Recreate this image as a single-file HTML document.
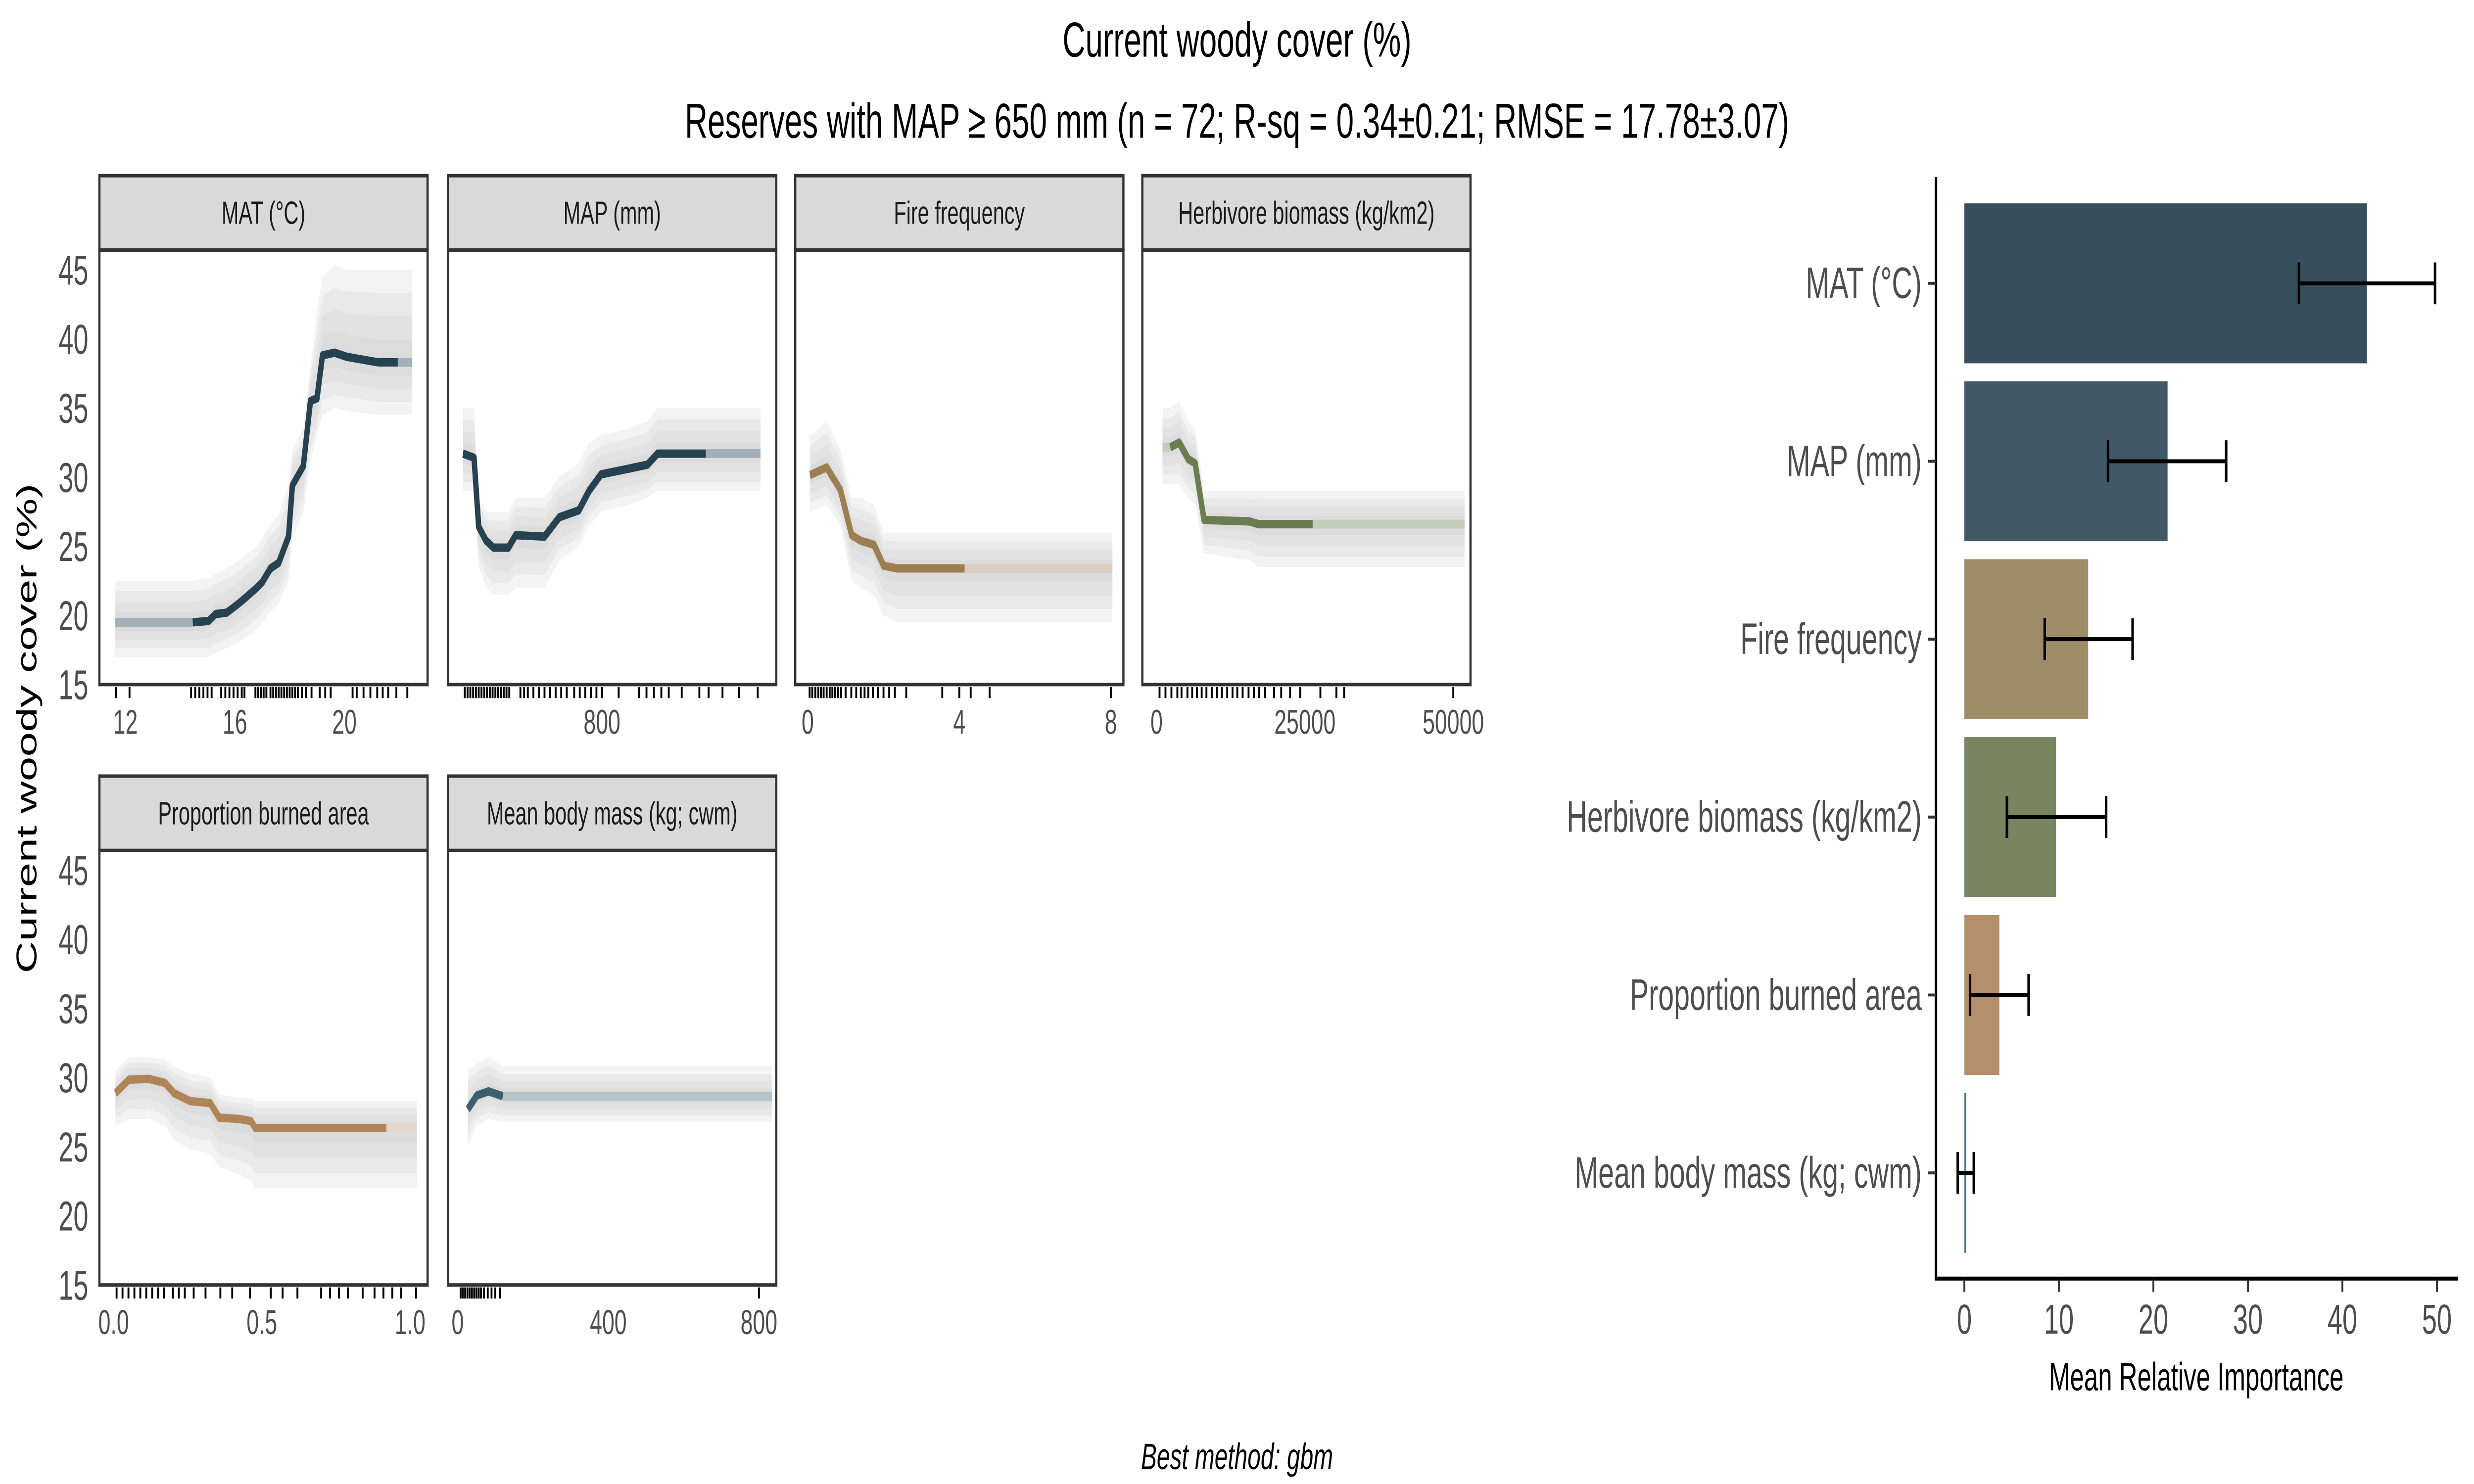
<!DOCTYPE html>
<html><head><meta charset="utf-8"><style>
html,body{margin:0;padding:0;background:#fff;width:100%;height:100%;overflow:hidden;}
svg{display:block;width:100vw;height:100vh;}
text{font-family:"Liberation Sans",Arial,sans-serif;}
</style></head><body>
<svg id="fig" xmlns="http://www.w3.org/2000/svg" viewBox="0 0 1568 603.08" preserveAspectRatio="none">
<rect x="0" y="0" width="1568" height="603.08" fill="#fff"/>
<text x="784" y="23" text-anchor="middle" font-size="20" fill="#000">Current woody cover (%)</text>
<text x="784" y="56" text-anchor="middle" font-size="20" fill="#000">Reserves with MAP ≥ 650 mm (n = 72; R-sq = 0.34±0.21; RMSE = 17.78±3.07)</text>
<text transform="translate(23,296) rotate(-90)" text-anchor="middle" font-size="18" fill="#000">Current woody cover (%)</text>
<text x="784" y="597" text-anchor="middle" font-size="15" font-style="italic" fill="#000">Best method: gbm</text>
<g id="panels"></g>
<g id="bars"></g>
</svg>
<script>
// ---------- Partial dependence data ----------
const matX = [14.46,15.04,15.3,15.7,16.1,16.4,16.8,17.0,17.3,17.6,17.96,18.1,18.5,18.76,19.0,19.2,19.64,20.09,21.24,21.95];
const matY = [19.5,19.6,20.1,20.2,20.8,21.3,22.0,22.4,23.4,23.8,25.7,29.4,30.8,35.5,35.7,38.8,39.0,38.7,38.3,38.3];
const matLo = [17.0,17.0,17.3,17.6,18.0,18.4,19.0,19.4,20.3,20.8,22.5,25.5,27.5,31.0,33.0,34.5,35.0,34.8,34.5,34.5];
const matHi = [22.5,22.7,23.0,23.4,23.9,24.4,25.0,25.6,26.6,27.3,29.5,32.0,33.5,38.0,42.0,44.5,45.3,45.0,45.0,45.0];
const matRug = [11.65,12.15,14.4,14.55,14.7,14.85,15.0,15.15,15.5,15.65,15.8,15.95,16.1,16.25,16.35,16.75,16.85,16.95,17.05,17.15,17.3,17.4,17.5,17.6,17.7,17.8,17.9,18.0,18.1,18.2,18.3,18.45,18.6,18.8,19.1,19.3,19.5,20.3,20.45,20.7,20.95,21.2,21.4,21.6,21.9,22.3];

const mapX = [650,662,667,675,683,699,707,738,754,775,786,799,828,849,860,912];
const mapY = [31.7,31.4,26.4,25.4,24.9,24.9,25.8,25.7,27.1,27.6,29.0,30.2,30.6,30.9,31.7,31.7];
const mapLo = [29.0,29.0,23.5,22.0,21.5,21.5,22.0,22.0,24.0,25.0,26.5,27.5,28.0,28.5,29.0,29.0];
const mapHi = [35.0,35.0,28.5,27.5,27.5,27.5,28.5,28.5,30.0,31.0,32.5,33.0,33.5,34.0,35.0,35.0];
const mapRug = [652,655,658,661,664,667,670,673,676,679,682,685,688,691,694,697,700,712,716,720,726,732,738,744,750,756,762,770,776,782,788,794,800,818,840,848,856,864,872,886,905,915,930,948,968];

const fireX = [0.06,0.5,0.86,1.16,1.4,1.75,2.0,2.35,4.14];
const fireY = [30.15,30.7,29.1,25.8,25.4,25.1,23.6,23.4,23.4];
const fireLo = [27.5,28.0,26.5,22.5,22.0,21.5,20.0,19.5,19.5];
const fireHi = [33.0,34.0,32.0,28.5,28.5,28.0,26.0,26.0,26.0];
const fireRug = [0.05,0.12,0.2,0.28,0.35,0.42,0.5,0.58,0.65,0.72,0.8,0.88,1.0,1.15,1.28,1.4,1.5,1.6,1.72,1.85,2.0,2.15,2.3,2.6,3.55,4.0,4.3,4.8,8.0];

const herbX = [2300,3800,5350,6500,8000,15600,17200,26300];
const herbY = [32.15,32.5,31.3,31.0,26.9,26.8,26.6,26.6];
const herbLo = [29.5,29.5,28.5,28.0,24.5,24.0,23.5,23.5];
const herbHi = [35.0,35.5,34.0,33.5,29.0,29.0,29.0,29.0];
const herbRug = [500,1500,2500,3500,4200,5200,6000,6800,7600,8400,9300,10200,11000,11900,12800,13600,14500,15500,16400,17300,18300,19800,21000,22500,24200,27600,30300,31600,50000];

const propX = [0.006,0.052,0.12,0.174,0.204,0.257,0.326,0.356,0.425,0.463,0.478,0.92];
const propY = [28.86,29.85,29.9,29.6,28.86,28.3,28.15,27.1,27.0,26.85,26.35,26.35];
const propLo = [26.5,27.0,27.0,26.5,25.5,24.8,24.5,23.5,23.0,22.5,22.0,22.0];
const propHi = [30.5,31.5,31.5,31.3,30.8,30.3,30.0,28.8,28.5,28.5,28.3,28.3];
const propRug = [0.01,0.03,0.05,0.07,0.09,0.11,0.13,0.15,0.17,0.2,0.22,0.24,0.27,0.31,0.36,0.4,0.46,0.53,0.57,0.62,0.7,0.73,0.76,0.79,0.84,0.88,0.91,0.94,0.97,1.02];

const massX = [27,51,82,120];
const massY = [27.7,28.7,29.0,28.65];
const massLo = [25.0,26.5,27.0,26.8];
const massHi = [30.5,31.0,31.5,30.8];
const massRug = [8,14,20,26,32,38,44,50,56,62,70,80,90,100,112,800];

// ---------- Importance data ----------
const impCats = ["MAT (°C)","MAP (mm)","Fire frequency","Herbivore biomass (kg/km2)","Proportion burned area","Mean body mass (kg; cwm)"];
const impMean = [42.6,21.5,13.1,9.7,3.7,0.2];
const impLo = [35.4,15.2,8.5,4.5,0.6,-0.7];
const impHi = [49.8,27.7,17.8,15.0,6.8,1.0];
const impTicks = [0,10,20,30,40,50];

const NS = "http://www.w3.org/2000/svg";
function mk(tag, attrs, parent){const e=document.createElementNS(NS,tag);for(const k in attrs)e.setAttribute(k,attrs[k]);parent.appendChild(e);return e;}

const yTicks = [15,20,25,30,35,40,45];
const panels = [
 {title:"MAT (°C)", x0:63, y0:71.4, dom:[11.05,23.04], ticks:[12,16,20], tl:["12","16","20"], xs:matX, ys:matY, lo:matLo, hi:matHi, rug:matRug, L:11.63, R:22.48, c:"#26414f", lc:"#a3b0b7", name:"mat"},
 {title:"MAP (mm)", x0:284, y0:71.4, dom:[634,988], ticks:[800], tl:["800"], xs:mapX, ys:mapY, lo:mapLo, hi:mapHi, rug:mapRug, L:null, R:971, c:"#26414f", lc:"#a3b0b7", name:"map"},
 {title:"Fire frequency", x0:504, y0:71.4, dom:[-0.33,8.33], ticks:[0,4,8], tl:["0","4","8"], xs:fireX, ys:fireY, lo:fireLo, hi:fireHi, rug:fireRug, L:null, R:8.04, c:"#9c7f50", lc:"#d8cfc0", name:"fire"},
 {title:"Herbivore biomass (kg/km2)", x0:724, y0:71.4, dom:[-2400,52900], ticks:[0,25000,50000], tl:["0","25000","50000"], xs:herbX, ys:herbY, lo:herbLo, hi:herbHi, rug:herbRug, L:1000, R:51900, c:"#6b7c50", lc:"#c4ccbb", name:"herbivore"},
 {title:"Proportion burned area", x0:63, y0:315.4, dom:[-0.048,1.059], ticks:[0,0.5,1], tl:["0.0","0.5","1.0"], xs:propX, ys:propY, lo:propLo, hi:propHi, rug:propRug, L:null, R:1.023, c:"#b08459", lc:"#e6d6c5", name:"proportion-burned"},
 {title:"Mean body mass (kg; cwm)", x0:284, y0:315.4, dom:[-25.3,846], ticks:[0,400,800], tl:["0","400","800"], xs:massX, ys:massY, lo:massLo, hi:massHi, rug:massRug, L:null, R:835, c:"#3d6070", lc:"#b6c4ca", name:"mass"}
];
const PW=208, SH=30.2, PH=176.6;
const G = document.getElementById("panels");
panels.forEach(p=>{
  const g = mk("g",{},G);
  
  
  const top=p.y0+SH, bot=top+PH;
  const sx=v=>p.x0+(v-p.dom[0])/(p.dom[1]-p.dom[0])*PW;
  const sy=v=>bot-(v-15)*5.62;
  const xs=p.xs.slice(), lo=p.lo.slice(), hi=p.hi.slice();
  if(p.L!==null){xs.unshift(p.L);lo.unshift(p.lo[0]);hi.unshift(p.hi[0]);}
  xs.push(p.R);lo.push(p.lo[p.lo.length-1]);hi.push(p.hi[p.hi.length-1]);
  const n=xs.length;
  const off=(p.L!==null?1:0);
  const midAt=i=>p.ys[Math.min(Math.max(i-off,0),p.ys.length-1)];
  for(let k=0;k<4;k++){
    const f=k/4;
    let pts=[];
    for(let i=0;i<n;i++){const ml=midAt(i);pts.push(sx(xs[i]).toFixed(2)+","+sy(lo[i]+(ml-lo[i])*f).toFixed(2));}
    for(let i=n-1;i>=0;i--){const ml=midAt(i);pts.push(sx(xs[i]).toFixed(2)+","+sy(hi[i]-(hi[i]-ml)*f).toFixed(2));}
    const b=mk("polygon",{points:pts.join(" "),fill:"#c8c8c8","fill-opacity":"0.22"},g);
    
    
  }
  const y0v=p.ys[0], yNv=p.ys[p.ys.length-1];
  if(p.L!==null){
    const l=mk("line",{x1:sx(p.L),x2:sx(p.xs[0]),y1:sy(y0v),y2:sy(y0v),stroke:p.lc,"stroke-width":3.6},g);
    
    
  }
  const r=mk("line",{x1:sx(p.xs[p.xs.length-1]),x2:sx(p.R),y1:sy(yNv),y2:sy(yNv),stroke:p.lc,"stroke-width":3.6},g);
  
  
  const line=mk("polyline",{points:p.xs.map((x,i)=>sx(x).toFixed(2)+","+sy(p.ys[i]).toFixed(2)).join(" "),fill:"none",stroke:p.c,"stroke-width":3.4,"stroke-linejoin":"round"},g);
  
  
  const fr=mk("rect",{x:p.x0,y:top,width:PW,height:PH,fill:"none",stroke:"#333","stroke-width":1.4},g);
  
  
  const st=mk("rect",{x:p.x0,y:p.y0,width:PW,height:SH,fill:"#d9d9d9",stroke:"#333","stroke-width":1.4},g);
  
  
  const tt=mk("text",{x:p.x0+PW/2,y:p.y0+SH/2+4.5,"text-anchor":"middle","font-size":13,fill:"#1a1a1a"},g);
  tt.textContent=p.title;
  
  
  p.rug.forEach(v=>{
    const rl=mk("line",{x1:sx(v),x2:sx(v),y1:bot+1,y2:bot+5.5,stroke:"#000","stroke-width":1.2},g);
    
    
  });
  p.ticks.forEach((v,i)=>{
    const t=mk("text",{x:sx(v),y:bot+20,"text-anchor":"middle","font-size":14,fill:"#4d4d4d"},g);
    t.textContent=p.tl[i];
    
    
  });
  if(p.x0<100){
    yTicks.forEach(v=>{
      const t=mk("text",{x:56,y:sy(v)+6,"text-anchor":"end","font-size":17,fill:"#4d4d4d"},g);
      t.textContent=String(v);
      
      
    });
  }
});

// ---------- Importance bar chart ----------
const B=document.getElementById("bars");
const bx=v=>1245+v*5.99;
const bandTop=79, band=72.3;
const barColors=["#374f5d","#415866","#9e8b67","#778560","#b38f6b","#5a7585"];
const ax1=mk("line",{x1:1227,x2:1227,y1:72,y2:520.3,stroke:"#000","stroke-width":1.6},B);


const ax2=mk("line",{x1:1226.2,x2:1558,y1:519.6,y2:519.6,stroke:"#000","stroke-width":1.6},B);


impCats.forEach((c,i)=>{
  const cy=bandTop+band*(i+0.5);
  const w=Math.max(bx(impMean[i])-bx(0),0.8);
  const r=mk("rect",{x:bx(0),y:cy-32.5,width:w,height:65,fill:barColors[i]},B);
  
  
  const e=mk("path",{d:`M${bx(impLo[i])},${cy}H${bx(impHi[i])}M${bx(impLo[i])},${cy-8.5}V${cy+8.5}M${bx(impHi[i])},${cy-8.5}V${cy+8.5}`,stroke:"#000","stroke-width":1.6,fill:"none"},B);
  
  
  const tk=mk("line",{x1:1222,x2:1227,y1:cy,y2:cy,stroke:"#333","stroke-width":1.2},B);
  
  
  const t=mk("text",{x:1218,y:cy+6,"text-anchor":"end","font-size":18,fill:"#4d4d4d"},B);
  t.textContent=c;
  
  
});
impTicks.forEach(v=>{
  const tk=mk("line",{x1:bx(v),x2:bx(v),y1:520,y2:525,stroke:"#333","stroke-width":1.2},B);
  
  
  const t=mk("text",{x:bx(v),y:542,"text-anchor":"middle","font-size":17,fill:"#4d4d4d"},B);
  t.textContent=String(v);
  
  
});
const xt=mk("text",{x:1392,y:565,"text-anchor":"middle","font-size":16,fill:"#000"},B);
xt.textContent="Mean Relative Importance";


</script>
</body></html>
